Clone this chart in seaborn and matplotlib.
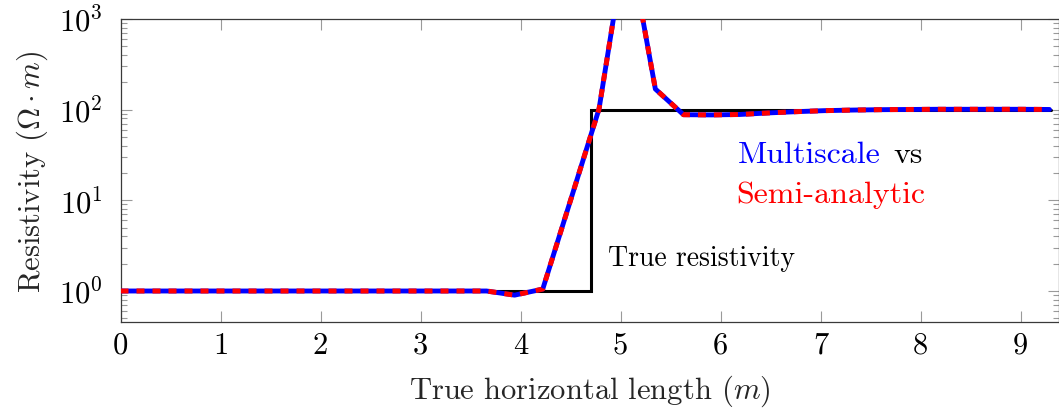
import numpy as np
import pandas as pd
import matplotlib
matplotlib.use("Agg")
import matplotlib.pyplot as plt
import matplotlib.ticker as mticker
import seaborn as sns

# ---- data ----
x_model = [0.0, 0.2815, 0.563, 0.8445, 1.126, 1.4075, 1.689, 1.9705, 2.252, 2.5335,
           2.815, 3.0965, 3.378, 3.6595, 3.941, 4.2225, 4.504, 4.7855, 5.067, 5.3485,
           5.63, 5.9115, 6.193, 6.4745, 6.756, 7.0375, 7.319, 7.6005, 7.882, 8.1635,
           8.445, 8.7265, 9.008, 9.2895]
multiscale = [1.0, 1.0, 1.0, 1.0, 1.0, 1.0, 1.0, 1.0, 1.0, 1.0,
              1.0, 1.0, 1.0, 1.0, 0.90, 1.05, 10.3, 102.0, 9000.0, 169.0,
              88.0, 87.5, 88.5, 92.0, 95.0, 97.5, 99.0, 100.0, 100.5, 101.0,
              101.0, 101.0, 101.0, 100.5]
semi_analytic = list(multiscale)
x_true = [0.0, 4.70, 9.30]
true_res = [1.0, 100.0, 100.0]
x_ticks = [0, 1, 2, 3, 4, 5, 6, 7, 8, 9]

sns.set_theme(style="ticks")
plt.rcParams.update({
    "font.family": "serif",
    "font.serif": ["cmr10"],
    "mathtext.fontset": "cm",
    "axes.formatter.use_mathtext": True,
    "axes.unicode_minus": False,
})

fig = plt.figure(figsize=(10.59, 4.14), dpi=100)
ax = fig.add_axes([120.5 / 1059, 1 - 322.7 / 414, 1 - 120.5 / 1059, (322.7 - 20) / 414])

df_true = pd.DataFrame({"x": x_true, "y": true_res})
df_m = pd.DataFrame({"x": x_model, "y": multiscale})
df_s = pd.DataFrame({"x": x_model, "y": semi_analytic})

sns.lineplot(data=df_true, x="x", y="y", ax=ax, color="black", lw=2.2,
             drawstyle="steps-post", solid_joinstyle="miter", zorder=2)
sns.lineplot(data=df_m, x="x", y="y", ax=ax, color="blue", lw=3.5, zorder=3)
sns.lineplot(data=df_s, x="x", y="y", ax=ax, color="red", lw=3.6,
             linestyle=(0, (1.6, 1.6)), dash_capstyle="butt", zorder=4)

ax.set_yscale("log")
ax.set_xlim(0, 9.385)
ax.set_ylim(0.4585, 1000)
ax.set_xticks(x_ticks)
ax.set_xticklabels([str(t) for t in x_ticks])
ax.yaxis.set_major_locator(mticker.LogLocator(base=10, numticks=10))
ax.yaxis.set_minor_locator(mticker.LogLocator(base=10, subs=np.arange(2, 10), numticks=50))
ax.yaxis.set_minor_formatter(mticker.NullFormatter())

ax.tick_params(axis="both", which="both", direction="in", top=True, right=True,
               color="#9a9a9a", width=0.8, labelsize=22, labelcolor="black")
ax.tick_params(axis="both", which="major", length=8)
ax.tick_params(axis="both", which="minor", length=4.3)
ax.tick_params(axis="x", pad=7)
ax.tick_params(axis="y", pad=13)
for s in ax.spines.values():
    s.set_color("#3a3a3a")
    s.set_linewidth(0.9)

ax.set_xlabel("True horizontal length ($m$)", fontsize=22, labelpad=10)
ax.set_ylabel(r"Resistivity ($\Omega \cdot m$)", fontsize=22, labelpad=6)
ax.legend_ = None

ax.text(7.605, 26.5, "Multiscale", color="blue", fontsize=23, ha="right", va="baseline")
ax.text(7.725, 26.5, "vs", color="black", fontsize=23, ha="left", va="baseline")
ax.text(7.105, 9.6, "Semi-analytic", color="red", fontsize=23, ha="center", va="baseline")
ax.text(4.875, 1.94, "True resistivity", color="black", fontsize=20, ha="left", va="baseline")

fig.savefig("out.png", dpi=100)
